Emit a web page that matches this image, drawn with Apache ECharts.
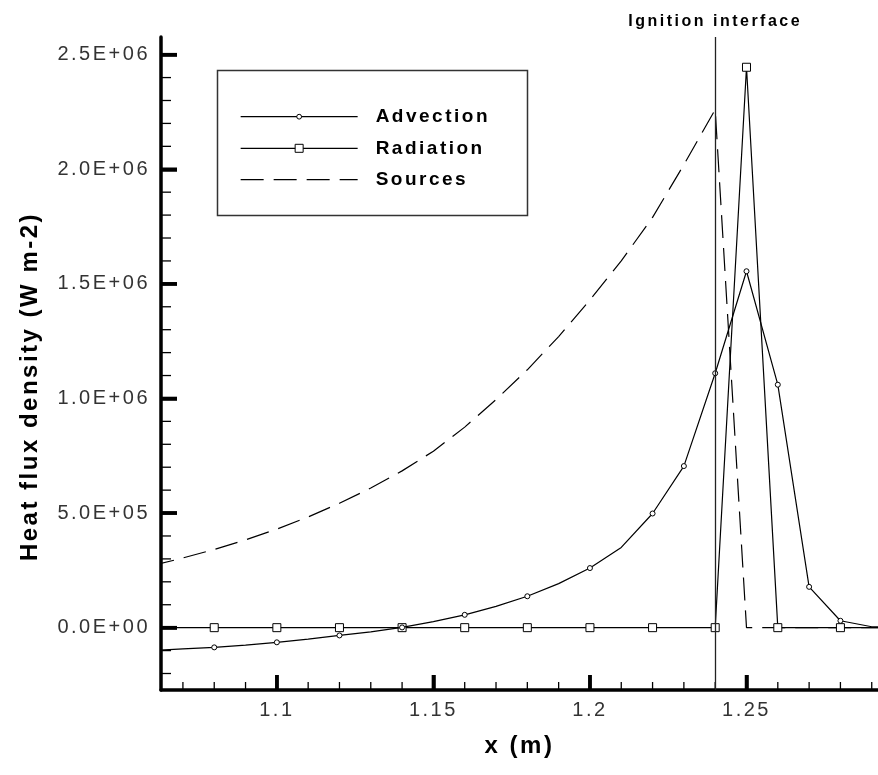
<!DOCTYPE html>
<html>
<head>
<meta charset="utf-8">
<script src="https://cdn.jsdelivr.net/npm/echarts@6/dist/echarts.min.js"></script>
<style>
html, body { margin: 0; padding: 0; background: #fff; }
#chart { width: 878px; height: 775px; }
</style>
</head>
<body>
<div id="chart"></div>
<script>
// ---- data ----
const xs = [1.06, 1.07, 1.08, 1.09, 1.10, 1.11, 1.12, 1.13, 1.14, 1.15, 1.16, 1.17, 1.18, 1.19, 1.20,
            1.21, 1.22, 1.23, 1.24, 1.25, 1.26, 1.27, 1.28, 1.29, 1.30];
const advection = [-1.00e5, -9.3e4, -8.6e4, -7.6e4, -6.4e4, -5.0e4, -3.4e4, -1.8e4, 1e3, 2.6e4, 5.6e4, 9.3e4,
                   1.37e5, 1.92e5, 2.60e5, 3.50e5, 4.98e5, 7.05e5, 1.11e6, 1.555e6, 1.06e6, 1.78e5, 3.0e4, 4e3, 0];
const radiation = [0, 0, 0, 0, 0, 0, 0, 0, 0, 0, 0, 0, 0, 0, 0, 0, 0, 0, 0, 2.445e6, 0, 0, 0, 0, 0];
const sources = [2.70e5, 3.04e5, 3.41e5, 3.83e5, 4.30e5, 4.83e5, 5.43e5, 6.09e5, 6.84e5, 7.70e5, 8.75e5, 9.95e5,
                 1.125e6, 1.27e6, 1.43e6, 1.60e6, 1.79e6, 2.02e6, 2.26e6, 0, 0, 0, 0, 0, 0];
const advectionMarked = [1.08, 1.10, 1.12, 1.14, 1.16, 1.18, 1.20, 1.22, 1.23, 1.24, 1.25, 1.26, 1.27, 1.28];
const radiationMarked = [1.08, 1.10, 1.12, 1.14, 1.16, 1.18, 1.20, 1.22, 1.24, 1.25, 1.26, 1.28];
const seriesNames = ['Advection', 'Radiation', 'Sources'];
const xTickValues = [1.1, 1.15, 1.2, 1.25];
const xTickLabels = ['1.1', '1.15', '1.2', '1.25'];
const xMinorTicks = [1.07, 1.08, 1.09, 1.11, 1.12, 1.13, 1.14, 1.16, 1.17, 1.18, 1.19,
                     1.21, 1.22, 1.23, 1.24, 1.26, 1.27, 1.28, 1.29];
const yTickValues = [0, 5e5, 1e6, 1.5e6, 2e6, 2.5e6];
const yTickLabels = ['0.0E+00', '5.0E+05', '1.0E+06', '1.5E+06', '2.0E+06', '2.5E+06'];
const yMinorTicks = [-2e5, -1e5, 1e5, 2e5, 3e5, 4e5, 6e5, 7e5, 8e5, 9e5, 1.1e6, 1.2e6, 1.3e6, 1.4e6,
                     1.6e6, 1.7e6, 1.8e6, 1.9e6, 2.1e6, 2.2e6, 2.3e6, 2.4e6];
const ignitionX = 1.24;
const ignitionLabel = 'Ignition interface';
const xRange = [1.063, 1.292];
const yRange = [-2.72e5, 2.577e6];

// spaced lettering like the original plotting package (canvas letterSpacing)
(function () {
  const proto = CanvasRenderingContext2D.prototype;
  const orig = proto.fillText;
  proto.fillText = function () {
    const prev = this.letterSpacing;
    try { this.letterSpacing = '2.5px'; } catch (e) {}
    const r = orig.apply(this, arguments);
    try { this.letterSpacing = prev; } catch (e) {}
    return r;
  };
})();

// ---- helpers ----
const FONT = '"Liberation Sans", Arial, Helvetica, sans-serif';
const near = (a, b) => Math.abs(a - b) < 1e-9;
function build(vals, marked) {
  return xs.map((x, i) => {
    const item = { value: [x, vals[i]] };
    if (!marked || !marked.some(m => near(m, x))) item.symbol = 'none';
    return item;
  });
}
function labelFor(values, labels) {
  return v => { const i = values.findIndex(t => Math.abs(t - v) < 1e-6); return i >= 0 ? labels[i] : ''; };
}
// tick marks positioned through the axes' own scales (api.coord)
function tickSeries(axis, values, len, width) {
  return {
    type: 'custom', silent: true, clip: false, z: 4, animation: false,
    data: values.map(v => axis === 'x' ? [v, yRange[0]] : [xRange[0], v]),
    renderItem: (params, api) => {
      const p = api.coord([api.value(0), api.value(1)]);
      const shape = axis === 'x'
        ? { x1: p[0], y1: p[1], x2: p[0], y2: p[1] - len }
        : { x1: p[0], y1: p[1], x2: p[0] + len, y2: p[1] };
      return { type: 'line', shape, style: { stroke: '#000', lineWidth: width } };
    }
  };
}

const chart = echarts.init(document.getElementById('chart'), null, { renderer: 'canvas' });
const legendText = { fontFamily: FONT, fontSize: 19, fontWeight: 'bold', color: '#000', lineHeight: 22, padding: [0, 0, 0, 13] };
const legendIconStyle = { color: '#fff', borderColor: '#000', borderWidth: 1 };

chart.setOption({
  animation: false,
  backgroundColor: '#fff',
  grid: { left: 161, right: 0, top: 37, bottom: 85, containLabel: false, outerBoundsMode: 'none' },
  legend: [
    {
      data: [{ name: seriesNames[0] }],
      orient: 'vertical', left: 240, top: 105.7, padding: 0,
      itemWidth: 117, itemHeight: 6, itemGap: 9.3, selectedMode: false,
      textStyle: legendText, itemStyle: legendIconStyle,
      lineStyle: { color: '#000', width: 1.3, type: 'solid' }
    },
    {
      data: [
        { name: seriesNames[1] },
        { name: seriesNames[2], itemStyle: { opacity: 0 }, lineStyle: { type: [23, 10] } }
      ],
      orient: 'vertical', left: 240, top: 137.3, padding: 0,
      itemWidth: 117, itemHeight: 10, itemGap: 9.3, selectedMode: false,
      textStyle: legendText, itemStyle: legendIconStyle,
      lineStyle: { color: '#000', width: 1.3, type: 'solid' }
    }
  ],
  graphic: [
    { type: 'rect', left: 215, top: 68, shape: { width: 310, height: 145 },
      style: { fill: 'none', stroke: '#333', lineWidth: 1.5 }, silent: true, z: 1 }
  ],
  xAxis: {
    type: 'value', min: xRange[0], max: xRange[1],
    axisLine: { show: true, onZero: false, lineStyle: { color: '#000', width: 3.5 } },
    axisTick: { show: true, inside: true, length: 15, customValues: xTickValues, lineStyle: { color: '#000', width: 3.5 } },
    minorTick: { show: false },
    axisLabel: { customValues: xTickValues, formatter: labelFor(xTickValues, xTickLabels),
                 fontFamily: FONT, fontSize: 20, color: '#333', margin: 10 },
    splitLine: { show: false },
    name: 'x (m)', nameLocation: 'middle', nameGap: 44,
    nameTextStyle: { fontFamily: FONT, fontSize: 24, fontWeight: 'bold', color: '#000' }
  },
  yAxis: {
    type: 'value', min: yRange[0], max: yRange[1],
    axisLine: { show: true, onZero: false, lineStyle: { color: '#000', width: 3.5 } },
    axisTick: { show: true, inside: true, length: 16, customValues: yTickValues, lineStyle: { color: '#000', width: 3.5 } },
    minorTick: { show: false },
    axisLabel: { customValues: yTickValues, formatter: labelFor(yTickValues, yTickLabels),
                 fontFamily: FONT, fontSize: 20, color: '#333', margin: 11 },
    splitLine: { show: false },
    name: 'Heat flux density (W m-2)', nameLocation: 'middle', nameGap: 117,
    nameTextStyle: { fontFamily: FONT, fontSize: 24, fontWeight: 'bold', color: '#000', lineHeight: 28, padding: [0, 46, 0, 0] }
  },
  series: [
    {
      name: seriesNames[0], type: 'line', data: build(advection, advectionMarked),
      symbol: 'circle', symbolSize: 5,
      itemStyle: { color: '#fff', borderColor: '#000', borderWidth: 1 },
      lineStyle: { color: '#000', width: 1.2 }, emphasis: { disabled: true }, z: 3
    },
    {
      name: seriesNames[1], type: 'line', data: build(radiation, radiationMarked),
      symbol: 'rect', symbolSize: 8,
      itemStyle: { color: '#fff', borderColor: '#000', borderWidth: 1 },
      lineStyle: { color: '#000', width: 1.2 }, emphasis: { disabled: true }, z: 2
    },
    {
      name: seriesNames[2], type: 'line', data: build(sources, null),
      symbol: 'none', showSymbol: false,
      itemStyle: { color: '#000' },
      lineStyle: { color: '#000', width: 1.2, type: [23, 10] }, emphasis: { disabled: true }, z: 2,
      markLine: {
        silent: true, symbol: ['none', 'none'], animation: false,
        lineStyle: { color: '#222', width: 1.3, type: 'solid' },
        label: { show: true, position: 'end', formatter: ignitionLabel, fontFamily: FONT,
                 fontSize: 16, fontWeight: 'bold', color: '#000', distance: 7 },
        data: [{ xAxis: ignitionX }]
      }
    },
    tickSeries('x', xTickValues, 15, 3.5),
    tickSeries('x', xMinorTicks, 8, 1.3),
    tickSeries('y', yTickValues, 16, 3.5),
    tickSeries('y', yMinorTicks, 10, 1.3)
  ]
});
</script>
</body>
</html>
